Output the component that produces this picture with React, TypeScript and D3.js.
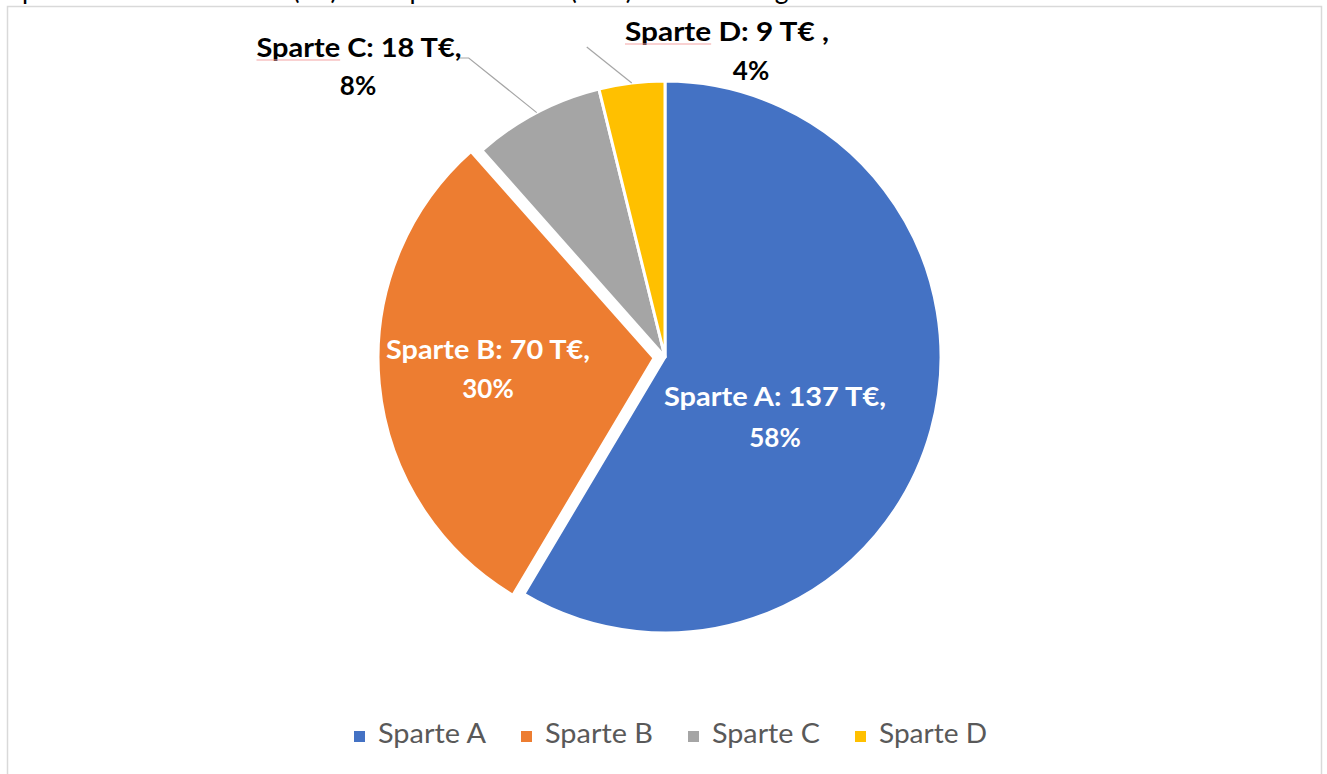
import React, { useEffect, useRef } from 'react';
import * as d3 from 'd3';

// Chart data
const categories = ['Sparte A', 'Sparte B', 'Sparte C', 'Sparte D'];
const values = [137, 70, 18, 9];
const valueLabels = ['Sparte A: 137 T€,', 'Sparte B: 70 T€,', 'Sparte C: 18 T€,', 'Sparte D: 9 T€ ,'];
const percentLabels = ['58%', '30%', '8%', '4%'];
const colors = ['#4472c4', '#ed7d31', '#a5a5a5', '#ffc000'];
const explode = [0, 11, 0, 0];

const W = 1327;
const H = 774;

const App = () => {
  const ref = useRef<SVGSVGElement | null>(null);

  useEffect(() => {
    if (!ref.current) return;
    document.body.style.margin = '0';
    const svg = d3.select(ref.current);
    svg.selectAll('*').remove();

    const font = 'Lato, "Open Sans", sans-serif';

    svg.append('rect').attr('width', W).attr('height', H).attr('fill', '#fff');

    // clipped heading line above the chart frame (only descenders visible)
    svg.append('text')
      .attr('x', 8)
      .attr('y', -1)
      .attr('textLength', 850)
      .attr('lengthAdjust', 'spacingAndGlyphs')
      .style('font-family', font)
      .style('font-size', '28px')
      .attr('fill', '#000')
      .text('Spartenumsätze absolut (T€) und Spartenanteile (in %) am Umsatz gesamt');

    // chart frame
    svg.append('rect')
      .attr('x', 7.5).attr('y', 6.5)
      .attr('width', 1314).attr('height', 800)
      .attr('fill', '#fff')
      .attr('stroke', '#d9d9d9')
      .attr('stroke-width', 1.5);

    const cx = 665;
    const cy = 357;
    const r = 276;

    const pie = d3.pie<number>().sort(null).value(d => d);
    const arcs = pie(values);
    const arc = d3.arc<d3.PieArcDatum<number>>().innerRadius(0).outerRadius(r);

    const g = svg.append('g').attr('transform', `translate(${cx},${cy})`);

    g.selectAll('path.slice')
      .data(arcs)
      .enter()
      .append('path')
      .attr('class', 'slice')
      .attr('d', d => arc(d) as string)
      .attr('transform', (d, i) => {
        const a = (d.startAngle + d.endAngle) / 2;
        return `translate(${Math.sin(a) * explode[i]},${-Math.cos(a) * explode[i]})`;
      })
      .attr('fill', (d, i) => colors[i])
      .attr('stroke', '#fff')
      .attr('stroke-width', 3)
      .attr('stroke-linejoin', 'round');

    // leader lines for the small slices (outside labels)
    const leaders = [
      { i: 2, kx: -68, ky: 58, elbow: 11 },
      { i: 3, kx: -45, ky: 47, elbow: 0 },
    ];
    leaders.forEach(l => {
      const d = arcs[l.i];
      const a = (d.startAngle + d.endAngle) / 2;
      const ex = Math.sin(a) * r;
      const ey = -Math.cos(a) * r;
      const pts: [number, number][] = [];
      const lx = cx + ex + l.kx;
      const ly = l.ky;
      if (l.elbow > 0) pts.push([lx - l.elbow, ly]);
      pts.push([lx, ly]);
      pts.push([cx + ex, cy + ey]);
      svg.append('path')
        .attr('d', d3.line()(pts) as string)
        .attr('fill', 'none')
        .attr('stroke', '#a6a6a6')
        .attr('stroke-width', 1.2);
    });

    // data labels
    const labelLayout = [
      { x1: 775, y1: 406, x2: 775, y2: 447, w: 222, fill: '#fff' },
      { x1: 488, y1: 359, x2: 488, y2: 398, w: 204, fill: '#fff' },
      { x1: 359, y1: 57, x2: 358, y2: 95, w: 205, fill: '#000' },
      { x1: 727, y1: 41, x2: 751, y2: 80, w: 204, fill: '#000' },
    ];
    labelLayout.forEach((p, i) => {
      const t1 = svg.append('text')
        .attr('x', p.x1).attr('y', p.y1)
        .attr('text-anchor', 'middle')
        .attr('textLength', p.w)
        .attr('lengthAdjust', 'spacingAndGlyphs')
        .style('font-family', font)
        .style('font-weight', 'bold')
        .style('font-size', '26px')
        .attr('fill', p.fill)
        .text(valueLabels[i]);
      svg.append('text')
        .attr('x', p.x2).attr('y', p.y2)
        .attr('text-anchor', 'middle')
        .style('font-family', font)
        .style('font-weight', 'bold')
        .style('font-size', '26px')
        .attr('fill', p.fill)
        .text(percentLabels[i]);
      // spell-check squiggle under "Sparte" on the outside labels
      if (i >= 2) {
        const node = t1.node() as SVGTextElement;
        const x0 = p.x1 - p.w / 2;
        let wS = 86;
        try {
          const full = node.getComputedTextLength();
          const part = node.getSubStringLength(0, 6);
          wS = (part / full) * p.w;
        } catch (e) { /* keep default */ }
        svg.append('line')
          .attr('x1', x0).attr('x2', x0 + wS)
          .attr('y1', p.y1 + 3).attr('y2', p.y1 + 3)
          .attr('stroke', '#f4a3a3')
          .attr('stroke-width', 1.2);
      }
    });

    // legend
    const legendX0 = 354;
    const legendStep = 167;
    const legendY = 743;
    const lg = svg.append('g');
    categories.forEach((c, i) => {
      const x = legendX0 + i * legendStep;
      lg.append('rect')
        .attr('x', x).attr('y', legendY - 12)
        .attr('width', 11).attr('height', 11)
        .attr('fill', colors[i]);
      lg.append('text')
        .attr('x', x + 24).attr('y', legendY)
        .attr('textLength', 108)
        .attr('lengthAdjust', 'spacingAndGlyphs')
        .style('font-family', font)
        .style('font-size', '27px')
        .attr('fill', '#595959')
        .text(c);
    });
  }, []);

  return <svg ref={ref} width={W} height={H} style={{ display: 'block' }} />;
};

export default App;
